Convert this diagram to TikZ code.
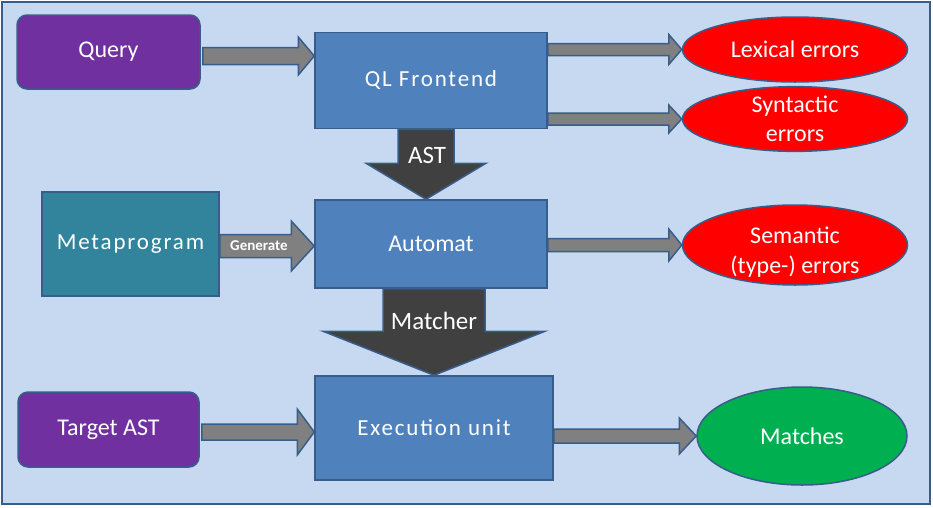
\documentclass[tikz,border=0pt]{standalone}
\usepackage{fontspec}
\setmainfont{Carlito}
\newfontfamily\spacedfont[LetterSpace=8]{Carlito}
\usetikzlibrary{calc,shapes.geometric}
\definecolor{bgblue}{HTML}{C6D9F1}
\definecolor{edgeblue}{HTML}{385D8A}
\definecolor{boxblue}{HTML}{4F81BD}
\definecolor{qpurple}{HTML}{7030A0}
\definecolor{teal}{HTML}{31849B}
\definecolor{errred}{HTML}{FF0000}
\definecolor{okgreen}{HTML}{00B050}
\definecolor{arrgray}{HTML}{808080}
\definecolor{arrdark}{HTML}{404040}
\tikzset{
  base/.style={draw=edgeblue, line width=1.5pt, text=white, font=\fontsize{24}{29}\selectfont, align=center, inner sep=0pt},
  inputbox/.style={base, fill=qpurple, rounded corners=10pt, minimum width=#1, minimum height=74pt},
  stagebox/.style={base, fill=boxblue, font=\spacedfont\fontsize{23}{27}\selectfont},
  errell/.style={base, ellipse, fill=errred},
  fatarrow/.style={draw=edgeblue, line width=1.5pt, fill=arrgray, line join=miter},
  darkarrow/.style={draw=edgeblue, line width=1.5pt, fill=arrdark, line join=miter},
  arrlabel/.style={text=white, font=\fontsize{25}{28}\selectfont, inner sep=0pt}
}
% horizontal fat arrow: #1 style, #2 start, #3 tip, #4 shaft half, #5 head half, #6 head length
\newcommand\hfat[6]{%
  \draw[#1] let \p1=#2, \p2=#3 in
    (\x1,\y2-#4) -- (\x2-#6,\y2-#4) -- (\x2-#6,\y2-#5) -- (\x2,\y2)
    -- (\x2-#6,\y2+#5) -- (\x2-#6,\y2+#4) -- (\x1,\y2+#4) -- cycle;}
% vertical fat arrow (downwards)
\newcommand\vfat[6]{%
  \draw[#1] let \p1=#2, \p2=#3 in
    (\x2-#4,\y1) -- (\x2-#4,\y2+#6) -- (\x2-#5,\y2+#6) -- (\x2,\y2)
    -- (\x2+#5,\y2+#6) -- (\x2+#4,\y2+#6) -- (\x2+#4,\y1) -- cycle;}
\begin{document}
\begin{tikzpicture}[x=1pt,y=-1pt]
\useasboundingbox (0,0) rectangle (933,507);
\draw[draw=edgeblue, line width=2.5pt, fill=bgblue] (2,2) rectangle (930,504);

% nodes
\node[inputbox=183pt] (q) at (108.5,52) {Query};
\node[stagebox, minimum width=232pt, minimum height=96pt] (ql) at (431,80.5) {QL Frontend};
\node[errell, minimum width=225pt, minimum height=65pt] (lex) at (795,49.5) {Lexical errors};
\node[errell, minimum width=225pt, minimum height=62pt] (syn) at (795,119) {Syntactic\\errors};
\node[base, fill=teal, font=\spacedfont\fontsize{23}{27}\selectfont, minimum width=177pt, minimum height=104pt] (meta) at (130.5,244) {Metaprogram};
\node[stagebox, minimum width=232pt, minimum height=88pt, font=\fontsize{24}{29}\selectfont] (aut) at (431,244) {Automat};
\node[errell, minimum width=225pt, minimum height=80pt] (sem) at (795,245) {};
\node[text=white, font=\fontsize{24}{30}\selectfont, align=center, inner sep=0pt] (semtxt) at ($(sem.center)+(0,7)$) {Semantic\\(type-) errors};
\node[inputbox=181pt, minimum height=75pt] (tgt) at (108.5,429.5) {Target AST};
\node[stagebox, minimum width=238pt, minimum height=104pt] (ex) at (434,428) {Execution unit};
\node[base, ellipse, fill=okgreen, minimum width=210pt, minimum height=98pt] (mat) at (802,436) {Matches};

% helper coordinates for arrow levels
\coordinate (a1) at (ql.west |- 0,56);
\coordinate (a2) at (lex.west);
\coordinate (a3) at (syn.west);
\coordinate (a4) at (aut.west |- 0,246);
\coordinate (a5) at (sem.west);
\coordinate (a6) at (ex.west |- 0,432);
\coordinate (a7) at (mat.west);
\coordinate (q1) at ($(q.east)+(2,0)$);
\coordinate (ql1) at ($(ql.east)+(0,0)$);
\coordinate (m1) at ($(meta.east)$);
\coordinate (t1) at ($(tgt.east)+(2,0)$);

% horizontal arrows
\hfat{fatarrow}{(q1)}{(a1)}{8.5pt}{19pt}{16pt}
\hfat{fatarrow}{(ql1)}{(a2)}{6pt}{15pt}{13pt}
\hfat{fatarrow}{(ql1)}{(a3)}{6pt}{14pt}{13pt}
\hfat{fatarrow}{(m1)}{(a4)}{11.5pt}{25pt}{23pt}
\hfat{fatarrow}{(aut.east)}{(a5)}{6.5pt}{16pt}{13pt}
\hfat{fatarrow}{(t1)}{(a6)}{8pt}{23pt}{17pt}
\hfat{fatarrow}{(ex.east)}{(a7)}{7pt}{18pt}{17pt}
\node[text=white, font=\bfseries\fontsize{15}{17}\selectfont, inner sep=0pt] (gen) at (259,246) {Generate};

% vertical arrows
\coordinate (v1) at (aut.north -| 426,0);
\coordinate (v2) at (ex.north);
\vfat{darkarrow}{(ql.south -| 426,0)}{(v1)}{28pt}{60pt}{36pt}
\vfat{darkarrow}{(aut.south -| 434,0)}{(v2)}{51pt}{111pt}{44pt}
\node[arrlabel] (astlbl) at (427,155) {AST};
\node[arrlabel] (mlbl) at (434,321) {Matcher};
\end{tikzpicture}
\end{document}
